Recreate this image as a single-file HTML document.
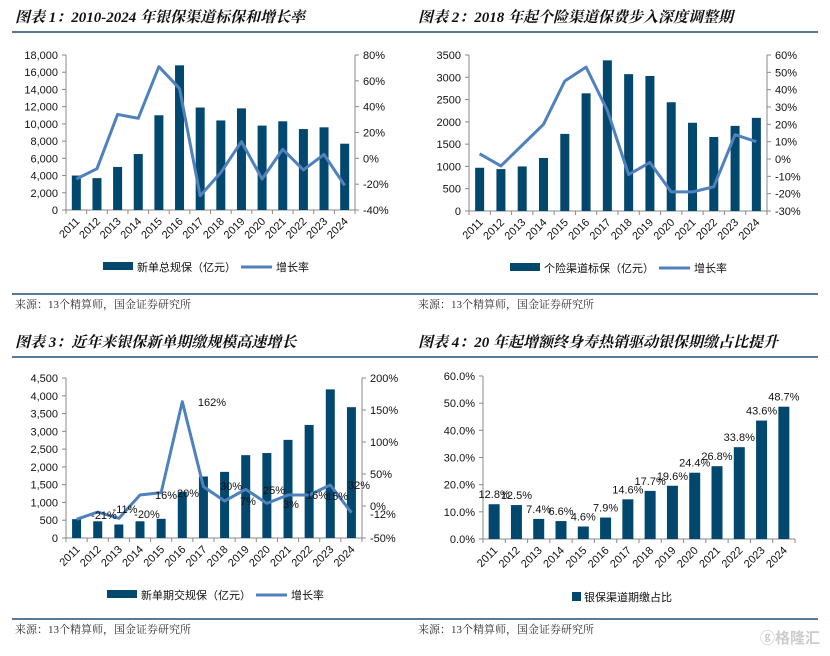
<!DOCTYPE html>
<html><head><meta charset="utf-8">
<style>
html,body{margin:0;padding:0;background:#fff;}
svg{display:block;font-family:"Liberation Sans","Noto Sans CJK SC",sans-serif;}
.t{font-family:"Liberation Serif","Noto Serif CJK SC",serif;font-weight:bold;font-style:italic;font-size:15px;fill:#111;}
.s{font-family:"Liberation Serif","Noto Serif CJK SC",serif;font-size:11px;fill:#333;}
.a{font-size:11px;fill:#111;}
</style></head>
<body>
<svg id="g" width="830" height="656" viewBox="0 0 830 656" xmlns="http://www.w3.org/2000/svg"></svg>
<script>
const S=document.getElementById('g');const NS='http://www.w3.org/2000/svg';
function el(t,a,txt){const e=document.createElementNS(NS,t);for(const k in a)e.setAttribute(k,a[k]);if(txt!==undefined)e.textContent=txt;S.appendChild(e);return e;}
const BAR='#02476e',LINE='#4f81bd',AX='#888';
const yrs=[];for(let y=2011;y<=2024;y++)yrs.push(y);
function chart(o){
 const {L,R,T,B}=o;const n=14,w=(R-L)/n;
 el('line',{x1:L,y1:T,x2:L,y2:B,stroke:AX});
 el('line',{x1:L,y1:B,x2:R,y2:B,stroke:AX});
 if(o.r) el('line',{x1:R,y1:T,x2:R,y2:B,stroke:AX});
 o.lt.forEach((t,i)=>{const y=B-(B-T)*i/(o.lt.length-1);el('line',{x1:L-4,y1:y,x2:L,y2:y,stroke:AX});el('text',{x:L-8,y:y+4,'text-anchor':'end',class:'a'},t);});
 if(o.r) o.rt.forEach((t,i)=>{const y=B-(B-T)*i/(o.rt.length-1);el('line',{x1:R,y1:y,x2:R+4,y2:y,stroke:AX});el('text',{x:R+8,y:y+4,class:'a'},t);});
 for(let i=0;i<=n;i++){const x=L+w*i;el('line',{x1:x,y1:B,x2:x,y2:B+4,stroke:AX});}
 o.v.forEach((v,i)=>{const c=L+w*(i+0.5);const h=(B-T)*v/o.max;el('rect',{x:c-o.bw/2,y:B-h,width:o.bw,height:h,fill:BAR});
  const tx=c+4,ty=B+12;el('text',{x:tx,y:ty,'text-anchor':'end',class:'a',transform:`rotate(-45 ${tx} ${ty})`},yrs[i]);});
 if(o.p){const pts=o.p.map((p,i)=>`${L+w*(i+0.5)},${B-(B-T)*(p-o.pmin)/(o.pmax-o.pmin)}`).join(' ');
  el('polyline',{points:pts,fill:'none',stroke:LINE,'stroke-width':3,'stroke-linejoin':'round'});}
}
function frame(x0,x1,ty,title,ly,bl){el('text',{x:x0+3,y:ty,class:'t'},title);el('line',{x1:x0,y1:ty+10,x2:x1,y2:ty+10,stroke:'#1f4e79','stroke-width':1.5});
 el('line',{x1:x0,y1:bl,x2:x1,y2:bl,stroke:'#1f4e79','stroke-width':1.5});el('text',{x:x0+3,y:bl+14,class:'s'},'来源：13个精算师，国金证券研究所');}
function legend(x,y,a,lx,b){el('rect',{x:x,y:y-5,width:30,height:8,fill:BAR});el('text',{x:x+34,y:y+4,class:'a'},a);
 if(lx){el('line',{x1:lx,y1:y,x2:lx+31,y2:y,stroke:LINE,'stroke-width':3});el('text',{x:lx+35,y:y+4,class:'a'},b);}}
frame(12,415,22,'图表 1：2010-2024 年银保渠道标保和增长率',0,294);
chart({L:66,R:355,T:55,B:210,r:1,bw:9,max:18000,lt:['0','2,000','4,000','6,000','8,000','10,000','12,000','14,000','16,000','18,000'],rt:['-40%','-20%','0%','20%','40%','60%','80%'],
 v:[4000,3700,5000,6500,11000,16800,11900,10400,11800,9800,10300,9400,9600,7700],p:[-16,-8,34,31,71,54,-29,-11,13,-16,7,-9,3,-21],pmin:-40,pmax:80});
legend(103,267,'新单总规保（亿元）',241,'增长率');
frame(415,818,22,'图表 2：2018 年起个险渠道保费步入深度调整期',0,294);
chart({L:469,R:767,T:55,B:211,r:1,bw:9,max:3500,lt:['0','500','1000','1500','2000','2500','3000','3500'],rt:['-30%','-20%','-10%','0%','10%','20%','30%','40%','50%','60%'],
 v:[970,940,1000,1190,1730,2640,3380,3070,3030,2440,1980,1660,1910,2090],p:[3,-4,8,20,45,53,28,-9,-2,-19,-19,-16,14,10],pmin:-30,pmax:60});
legend(510,268,'个险渠道标保（亿元）',659,'增长率');
frame(12,415,347,'图表 3：近年来银保新单期缴规模高速增长',0,619);
chart({L:66,R:362,T:378,B:538,r:1,bw:9,max:4500,lt:['0','500','1,000','1,500','2,000','2,500','3,000','3,500','4,000','4,500'],rt:['-50%','0%','50%','100%','150%','200%'],
 v:[530,470,380,470,540,1300,1730,1860,2330,2390,2760,3180,4180,3680]});
(function(){const ys=[568,546,565,495,488,215,470,513,478,520,495,495,465,548];const w=(362-66)/14;
 el('polyline',{points:ys.map((y,i)=>`${66+w*(i+0.5)},${330+y/3}`).join(' '),fill:'none',stroke:LINE,'stroke-width':3,'stroke-linejoin':'round'});
 [['-21%',104,519],['-11%',125,513],['-20%',147,518],['16%',166,499],['20%',188,497],['162%',212,406],['30%',231,490],['7%',248,505],['25%',274,494],['3%',291,508],['16%',317,499],['15%',337,500],['32%',359,489],['-12%',383,518]]
 .forEach(l=>el('text',{x:l[1],y:l[2],'text-anchor':'middle',class:'a'},l[0]));})();
legend(107,595,'新单期交规保（亿元）',256,'增长率');
frame(415,818,347,'图表 4：20 年起增额终身寿热销驱动银保期缴占比提升',0,619);
(function(){const v=[12.8,12.5,7.4,6.6,4.6,7.9,14.6,17.7,19.6,24.4,26.8,33.8,43.6,48.7];
 chart({L:483,R:795,T:376,B:539,bw:11,max:60,lt:['0.0%','10.0%','20.0%','30.0%','40.0%','50.0%','60.0%'],v:v});
 const w=(795-483)/14;v.forEach((p,i)=>{const c=483+w*(i+0.5);el('text',{x:c,y:539-163*p/60-6,'text-anchor':'middle',class:'a'},p.toFixed(1)+'%');});})();
el('rect',{x:572,y:592,width:9,height:9,fill:BAR});el('text',{x:584,y:601,class:'a'},'银保渠道期缴占比');
el('text',{x:760,y:643,style:'font-size:15px;fill:#ccc;font-weight:bold'},'ⓖ格隆汇');
</script>
</body></html>
